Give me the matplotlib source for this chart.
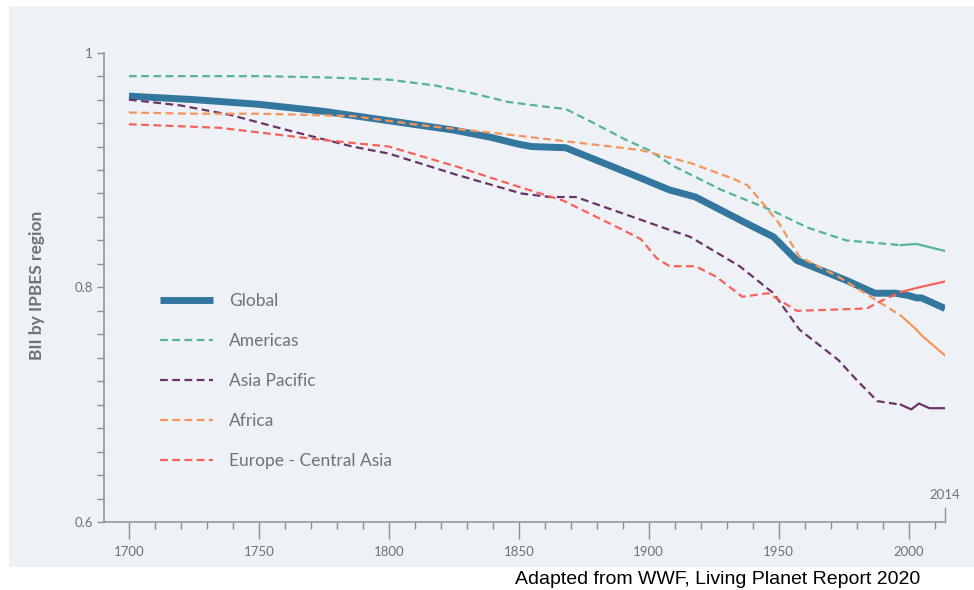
import numpy as np
import matplotlib
matplotlib.use("Agg")
import matplotlib.pyplot as plt
from matplotlib.patches import Rectangle
from matplotlib.ticker import MultipleLocator

# ── Data ────────────────────────────────────────────────────────────────────
global_years = [1700, 1725, 1750, 1775, 1800, 1825, 1839, 1850, 1855, 1868,
                1896, 1908, 1918, 1939, 1948, 1957, 1976, 1987, 1995, 2000,
                2003, 2005, 2008, 2014]
global_bii = [0.963, 0.960, 0.956, 0.950, 0.942, 0.934, 0.928, 0.922, 0.920,
              0.919, 0.894, 0.883, 0.877, 0.853, 0.843, 0.823, 0.806, 0.795,
              0.795, 0.793, 0.791, 0.791, 0.788, 0.782]

americas_years = [1700, 1750, 1775, 1800, 1818, 1833, 1846, 1860, 1868, 1878,
                  1891, 1900, 1909, 1928, 1948, 1961, 1976, 1997, 2003, 2014]
americas_bii = [0.980, 0.980, 0.979, 0.977, 0.972, 0.965, 0.958, 0.954, 0.952,
                0.941, 0.926, 0.917, 0.904, 0.883, 0.865, 0.851, 0.840, 0.836,
                0.837, 0.831]

asia_years = [1700, 1720, 1739, 1761, 1786, 1800, 1826, 1851, 1862, 1872,
              1890, 1908, 1916, 1935, 1948, 1958, 1973, 1980, 1988, 1997,
              2001, 2004, 2008, 2014]
asia_bii = [0.960, 0.955, 0.947, 0.934, 0.920, 0.914, 0.896, 0.880, 0.877,
            0.877, 0.863, 0.849, 0.843, 0.818, 0.795, 0.764, 0.738, 0.721,
            0.703, 0.700, 0.696, 0.701, 0.697, 0.697]

africa_years = [1700, 1725, 1750, 1786, 1813, 1839, 1870, 1897, 1916, 1932,
                1938, 1943, 1950, 1958, 1973, 1989, 1997, 2003, 2005, 2014]
africa_bii = [0.949, 0.948, 0.948, 0.946, 0.938, 0.932, 0.924, 0.917, 0.906,
              0.893, 0.887, 0.874, 0.855, 0.826, 0.809, 0.787, 0.776, 0.764,
              0.759, 0.742]

europe_years = [1700, 1735, 1773, 1800, 1826, 1851, 1867, 1890, 1897, 1903,
                1908, 1918, 1926, 1936, 1946, 1957, 1984, 1989, 1997, 2004,
                2014]
europe_bii = [0.939, 0.936, 0.926, 0.920, 0.903, 0.885, 0.874, 0.849, 0.841,
              0.825, 0.818, 0.818, 0.809, 0.792, 0.795, 0.780, 0.782, 0.788,
              0.796, 0.800, 0.805]

SOLID_FROM = 1997   # regional series switch from dashed to solid here
X_TICKS = [1700, 1750, 1800, 1850, 1900, 1950, 2000]
Y_TICKS = [0.6, 0.8, 1.0]
Y_TICK_LABELS = ["0.6", "0.8", "1"]

# ── Style ───────────────────────────────────────────────────────────────────
BLUE   = "#33779F"
GREEN  = "#55B29B"
PLUM   = "#6A3468"
ORANGE = "#F4955C"
CORAL  = "#F5625A"
AXIS   = "#8C9096"
TEXT   = "#6F7378"
PANEL  = "#EEF2F7"

plt.rcParams["font.family"] = ["Lato", "DejaVu Sans"]

fig = plt.figure(figsize=(9.74, 5.90), dpi=100)
fig.patch.set_facecolor("white")
fig.patches.append(Rectangle((9 / 974, 23.5 / 590), 1 - 9 / 974, (590 - 6 - 23.5) / 590,
                             transform=fig.transFigure, facecolor=PANEL,
                             edgecolor="none", zorder=-1))

ax = fig.add_axes([104 / 974, 68 / 590, (945 - 104) / 974, (522 - 52.7) / 590])
ax.set_facecolor("none")

ax.plot(global_years, global_bii, color=BLUE, lw=5, solid_capstyle="butt",
        label="Global", zorder=2)

regions = [
    ("Americas", americas_years, americas_bii, GREEN),
    ("Asia Pacific", asia_years, asia_bii, PLUM),
    ("Africa", africa_years, africa_bii, ORANGE),
    ("Europe - Central Asia", europe_years, europe_bii, CORAL),
]
for name, yrs, vals, col in regions:
    k = yrs.index(SOLID_FROM)
    ax.plot(yrs[:k + 1], vals[:k + 1], color=col, lw=1.6, ls=(0, (3.5, 2)),
            label=name, zorder=3)
    ax.plot(yrs[k:], vals[k:], color=col, lw=1.6, zorder=3)

ax.set_xlim(1690.4, 2014)
ax.set_ylim(0.6, 1.0)

for s in ("top", "right"):
    ax.spines[s].set_visible(False)
for s in ("left", "bottom"):
    ax.spines[s].set_color(AXIS)
    ax.spines[s].set_linewidth(1.1)

ax.set_xticks(X_TICKS)
ax.set_xticklabels([str(x) for x in X_TICKS])
ax.xaxis.set_minor_locator(MultipleLocator(10))
ax.set_yticks(Y_TICKS)
ax.set_yticklabels(Y_TICK_LABELS)
ax.yaxis.set_minor_locator(MultipleLocator(0.02))

ax.tick_params(axis="x", which="major", length=12, width=1, color=AXIS,
               labelcolor=TEXT, labelsize=9.5, pad=5)
ax.tick_params(axis="x", which="minor", length=5, width=1, color=AXIS)
ax.tick_params(axis="y", which="both", length=5, width=1, color=AXIS,
               labelcolor=TEXT, labelsize=9.5, pad=3)

# end-of-series marker
xt = ax.get_xaxis_transform()
ax.plot([2014, 2014], [0, 0.03], transform=xt, color=AXIS, lw=1, clip_on=False)
ax.text(2014, 0.058, "2014", transform=xt, ha="center", va="center",
        color=TEXT, fontsize=9.5)

fig.text(37 / 974, (590 - 285) / 590, "BII by IPBES region", rotation=90,
         ha="center", va="center", color=TEXT, fontsize=12.5, fontweight="bold")

leg = ax.legend(loc="upper left", bbox_to_anchor=(0.0666, 0.487), frameon=False,
                fontsize=12.5, handlelength=3.05, handletextpad=0.92,
                labelspacing=1.38, borderpad=0, borderaxespad=0)
for t in leg.get_texts():
    t.set_color(TEXT)

fig.text(920 / 974, 10 / 590, "Adapted from WWF, Living Planet Report 2020",
         ha="right", va="center", fontsize=14, color="black",
         family=["Liberation Sans", "DejaVu Sans"])

fig.savefig("out.png", dpi=100)
